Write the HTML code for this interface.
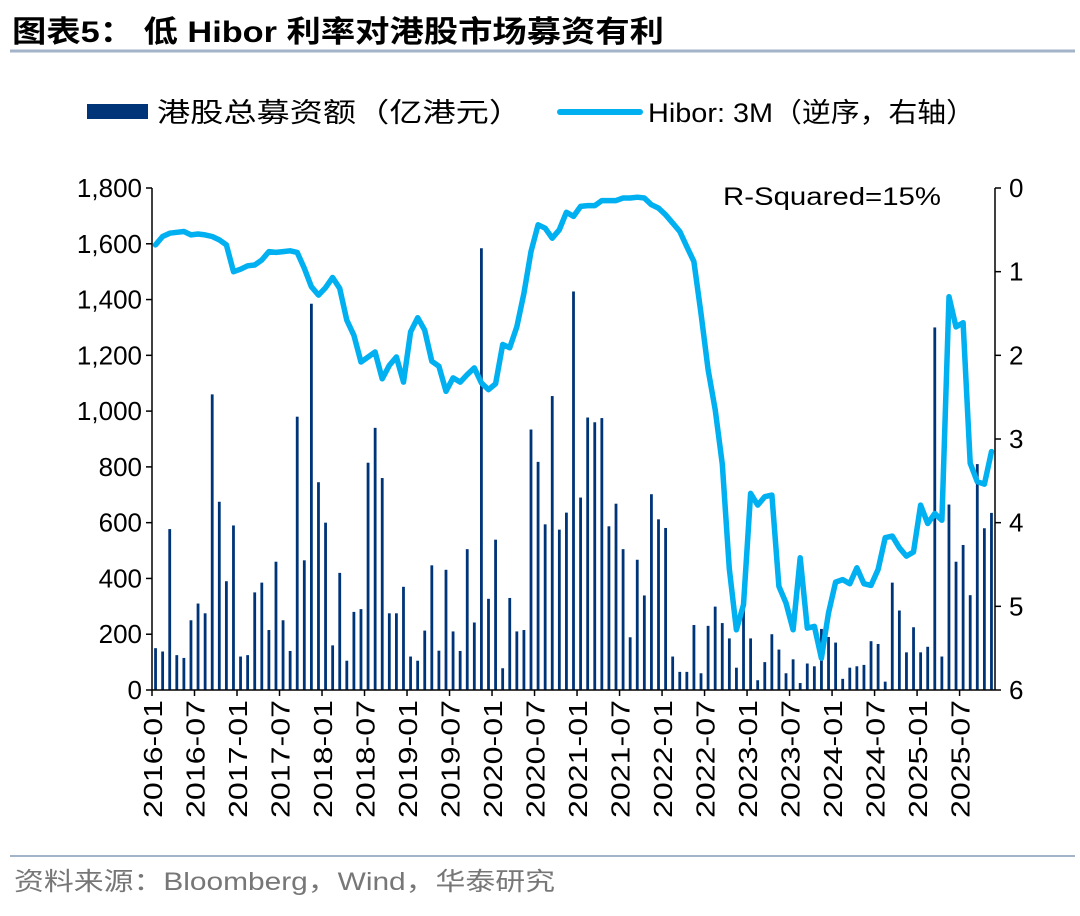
<!DOCTYPE html>
<html><head><meta charset="utf-8"><style>
body{margin:0;background:#fff;width:1080px;height:911px;overflow:hidden;font-family:"Liberation Sans","Noto Sans CJK SC",sans-serif;}
</style></head><body>
<svg width="1080" height="911" xmlns="http://www.w3.org/2000/svg" font-family="Liberation Sans, Noto Sans CJK SC, sans-serif">
<text x="12" y="42" font-size="30" font-weight="bold" fill="#000" textLength="652" lengthAdjust="spacingAndGlyphs">图表5：  低 Hibor 利率对港股市场募资有利</text>
<line x1="10" y1="51" x2="1075" y2="51" stroke="#a3b4c8" stroke-width="3"/>
<g>
<rect x="87" y="104" width="61" height="15" fill="#003478"/>
<text x="157" y="122" font-size="27" fill="#000" textLength="365" lengthAdjust="spacingAndGlyphs">港股总募资额（亿港元）</text>
<line x1="560" y1="112" x2="640" y2="112" stroke="#00b0f0" stroke-width="6" stroke-linecap="round"/>
<text x="648" y="122" font-size="27" fill="#000" textLength="327" lengthAdjust="spacingAndGlyphs">Hibor: 3M（逆序，右轴）</text>
</g>
<text x="723" y="205" font-size="25" fill="#000" textLength="218" lengthAdjust="spacingAndGlyphs">R-Squared=15%</text>
<g id="plot"></g>
<line x1="10" y1="856" x2="1075" y2="856" stroke="#a3b4c8" stroke-width="2"/>
<text x="14" y="890" font-size="25" fill="#777" textLength="541" lengthAdjust="spacingAndGlyphs">资料来源：Bloomberg，Wind，华泰研究</text>
</svg>
<script>
const bars=[150,138,577,125,115,250,310,275,1060,675,390,590,
120,125,350,385,215,460,250,140,980,465,1385,745,
600,160,420,105,280,290,815,940,760,275,275,370,
120,105,213,447,141,431,210,140,505,242,1584,327,
539,78,330,210,215,934,818,594,1054,575,636,1429,
690,977,960,975,587,668,505,189,467,339,702,612,
581,120,65,65,233,60,230,299,240,185,80,300,
185,35,100,200,145,60,110,25,95,85,219,190,
170,40,80,85,90,175,165,30,385,285,135,225,
135,155,1300,120,665,460,520,340,810,580,635];
const hibor=[0.68,0.58,0.54,0.53,0.52,0.56,0.55,0.56,0.58,0.62,0.68,1.00,
0.97,0.93,0.92,0.86,0.76,0.77,0.76,0.75,0.77,0.96,1.18,1.28,
1.19,1.07,1.20,1.58,1.76,2.08,2.02,1.96,2.28,2.12,2.02,2.32,
1.72,1.55,1.70,2.07,2.13,2.43,2.27,2.32,2.23,2.15,2.33,2.41,
2.34,1.87,1.91,1.66,1.26,0.76,0.44,0.48,0.60,0.50,0.29,0.34,
0.22,0.21,0.21,0.15,0.15,0.15,0.12,0.12,0.11,0.12,0.20,0.24,
0.32,0.42,0.52,0.70,0.88,1.50,2.17,2.65,3.30,4.55,5.28,4.98,
3.65,3.79,3.69,3.67,4.76,4.96,5.28,4.42,5.26,5.24,5.62,5.08,
4.71,4.68,4.73,4.54,4.73,4.75,4.56,4.18,4.16,4.30,4.40,4.35,
3.79,4.01,3.89,3.97,1.30,1.66,1.61,3.29,3.51,3.54,3.15];
const leftTicks=[0,200,400,600,800,1000,1200,1400,1600,1800];
const rightTicks=[0,1,2,3,4,5,6];
const xLabels=["2016-01","2016-07","2017-01","2017-07","2018-01","2018-07","2019-01","2019-07","2020-01","2020-07","2021-01","2021-07","2022-01","2022-07","2023-01","2023-07","2024-01","2024-07","2025-01","2025-07"];
const NS="http://www.w3.org/2000/svg";
const g=document.getElementById('plot');
const X0=152,X1=995,Y0=690,Y1=188,N=bars.length;
const step=(X1-X0)/N;
const xc=i=>X0+step*(i+0.5);
const yL=v=>Y0-(v/1800)*(Y0-Y1);
const yR=v=>Y1+(v/6)*(Y0-Y1);
function mk(t,a){const e=document.createElementNS(NS,t);for(const k in a)e.setAttribute(k,a[k]);g.appendChild(e);return e;}
bars.forEach((v,i)=>{
 const r=mk('rect',{x:xc(i)-1.4,y:yL(v),width:2.8,height:Y0-yL(v),fill:'#003478'});
 
 
});
const pl=mk('polyline',{points:hibor.map((v,i)=>xc(i).toFixed(1)+','+yR(v).toFixed(1)).join(' '),fill:'none',stroke:'#00b0f0','stroke-width':5.5,'stroke-linejoin':'round','stroke-linecap':'round'});


const ax=[[X0,Y1,X0,Y0],[X1,Y1,X1,Y0],[X0,Y0,X1,Y0]];
ax.forEach((a,k)=>{const l=mk('line',{x1:a[0],y1:a[1],x2:a[2],y2:a[3],stroke:'#000','stroke-width':1.5});
 
 });
leftTicks.forEach(v=>{const y=yL(v);
 const t=mk('line',{x1:X0-6,y1:y,x2:X0,y2:y,stroke:'#000','stroke-width':1.5});
 
 
 const tx=mk('text',{x:X0-10,y:y+9,'font-size':26,'text-anchor':'end',fill:'#000'});
 tx.textContent=v.toLocaleString('en-US');
 
 });
rightTicks.forEach(v=>{const y=yR(v);
 const t=mk('line',{x1:X1,y1:y,x2:X1+6,y2:y,stroke:'#000','stroke-width':1.5});
 
 
 const tx=mk('text',{x:X1+14,y:y+9,'font-size':26,'text-anchor':'start',fill:'#000'});
 tx.textContent=v;
 
 });
xLabels.forEach((s,k)=>{const x=X0+step*6*k;
 const t=mk('line',{x1:x,y1:Y0,x2:x,y2:Y0+6,stroke:'#000','stroke-width':1.5});
 
 
 const tx=mk('text',{x:-118,y:0,'font-size':26,'text-anchor':'start',textLength:118,lengthAdjust:'spacingAndGlyphs',fill:'#000',transform:`translate(${x+10},${Y0+10}) rotate(-90)`});
 tx.textContent=s;
 
 });
</script>
</body></html>
